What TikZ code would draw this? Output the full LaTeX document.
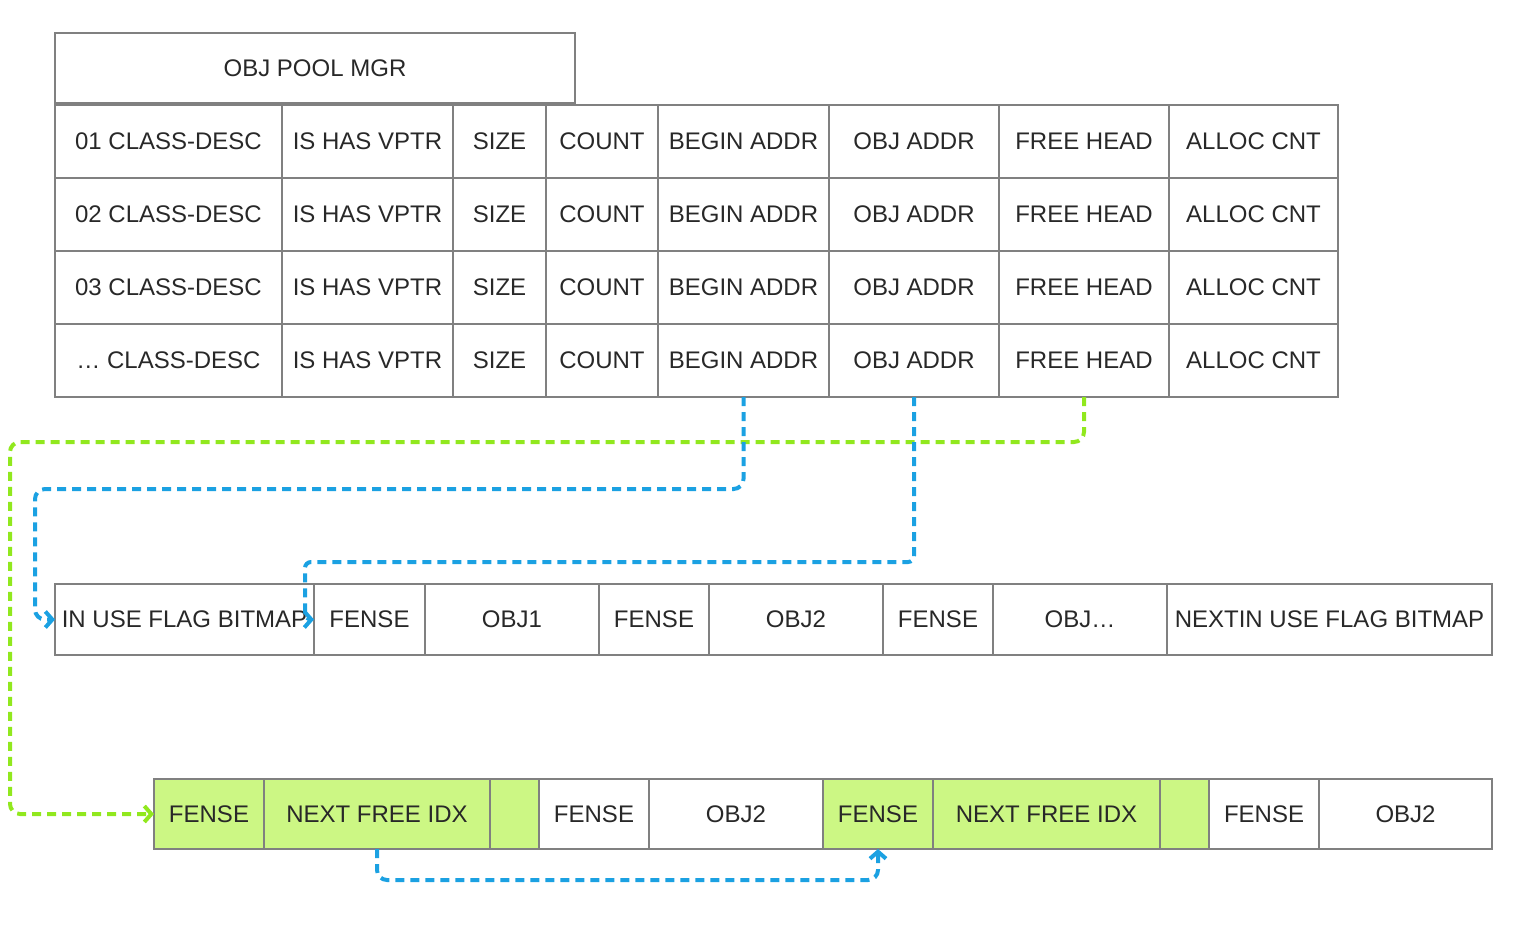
\documentclass[tikz,border=0pt]{standalone}
\usepackage{fontspec}
\setmainfont{Liberation Sans}
\usetikzlibrary{positioning,arrows.meta}
\definecolor{cellline}{RGB}{128,128,128}
\definecolor{celltext}{RGB}{40,40,40}
\definecolor{freegreen}{RGB}{204,247,132}
\definecolor{linkgreen}{RGB}{145,232,30}
\definecolor{linkblue}{RGB}{27,161,226}
\begin{document}
\begin{tikzpicture}[x=0.5pt,y=-0.5pt,cell/.style={draw=cellline, line width=1pt, inner sep=0pt, outer sep=0pt, text=celltext, font=\fontsize{12}{14}\selectfont}, trow/.style={cell, minimum height=36.5pt}, mrow/.style={cell, minimum height=35.5pt}, brow/.style={cell, minimum height=35pt}, free/.style={fill=freegreen}, link/.style={line width=2pt, dash pattern=on 4.5pt off 3pt, rounded corners=5pt, -{Straight Barb[length=3.5pt,width=8pt]}}]
\useasboundingbox (0,0) rectangle (1517,944);
\node[cell, minimum width=260pt, minimum height=35pt, anchor=north west] (mgr) at (55,33) {OBJ POOL MGR};
\foreach \r/\idx in {1/01,2/02,3/03,4/…} {
\node[trow, minimum width=113.5pt, anchor=north west] (d\r c1) at (55,{105+73*(\r-1)}) {\idx\ CLASS-DESC};
\node[trow, minimum width=85.5pt, right=0pt of d\r c1] (d\r c2) {IS HAS VPTR};
\node[trow, minimum width=46.5pt, right=0pt of d\r c2] (d\r c3) {SIZE};
\node[trow, minimum width=56pt, right=0pt of d\r c3] (d\r c4) {COUNT};
\node[trow, minimum width=85.5pt, right=0pt of d\r c4] (d\r c5) {BEGIN ADDR};
\node[trow, minimum width=85pt, right=0pt of d\r c5] (d\r c6) {OBJ ADDR};
\node[trow, minimum width=85pt, right=0pt of d\r c6] (d\r c7) {FREE HEAD};
\node[trow, minimum width=84.5pt, right=0pt of d\r c7] (d\r c8) {ALLOC CNT};
}
\node[mrow, minimum width=129.5pt, anchor=north west] (m1) at (55,584) {IN USE FLAG BITMAP};
\node[mrow, minimum width=55.5pt, right=0pt of m1] (m2) {FENSE};
\node[mrow, minimum width=87pt, right=0pt of m2] (m3) {OBJ1};
\node[mrow, minimum width=55pt, right=0pt of m3] (m4) {FENSE};
\node[mrow, minimum width=87pt, right=0pt of m4] (m5) {OBJ2};
\node[mrow, minimum width=55pt, right=0pt of m5] (m6) {FENSE};
\node[mrow, minimum width=87pt, right=0pt of m6] (m7) {OBJ…};
\node[mrow, minimum width=162.5pt, right=0pt of m7] (m8) {NEXTIN USE FLAG BITMAP};
\node[brow, free, minimum width=55pt, anchor=north west] (b1) at (154,779) {FENSE};
\node[brow, free, minimum width=113pt, right=0pt of b1] (b2) {NEXT FREE IDX};
\node[brow, free, minimum width=24.5pt, right=0pt of b2] (b3) {};
\node[brow, minimum width=55pt, right=0pt of b3] (b4) {FENSE};
\node[brow, minimum width=87pt, right=0pt of b4] (b5) {OBJ2};
\node[brow, free, minimum width=55pt, right=0pt of b5] (b6) {FENSE};
\node[brow, free, minimum width=113.5pt, right=0pt of b6] (b7) {NEXT FREE IDX};
\node[brow, free, minimum width=24.5pt, right=0pt of b7] (b8) {};
\node[brow, minimum width=55pt, right=0pt of b8] (b9) {FENSE};
\node[brow, minimum width=86.5pt, right=0pt of b9] (b10) {OBJ2};
\draw[link, linkgreen] (d4c7.south) |- (10,442) |- (b1.west);
\draw[link, linkblue] (d4c5.south) |- (35,489) |- (m1.west);
\draw[link, linkblue, rounded corners=3pt] (d4c6.south) |- (305,562) |- (m2.west);
\draw[link, linkblue] (b2.south) -- ++(0,31) -| (b6.south);
\end{tikzpicture}
\end{document}
